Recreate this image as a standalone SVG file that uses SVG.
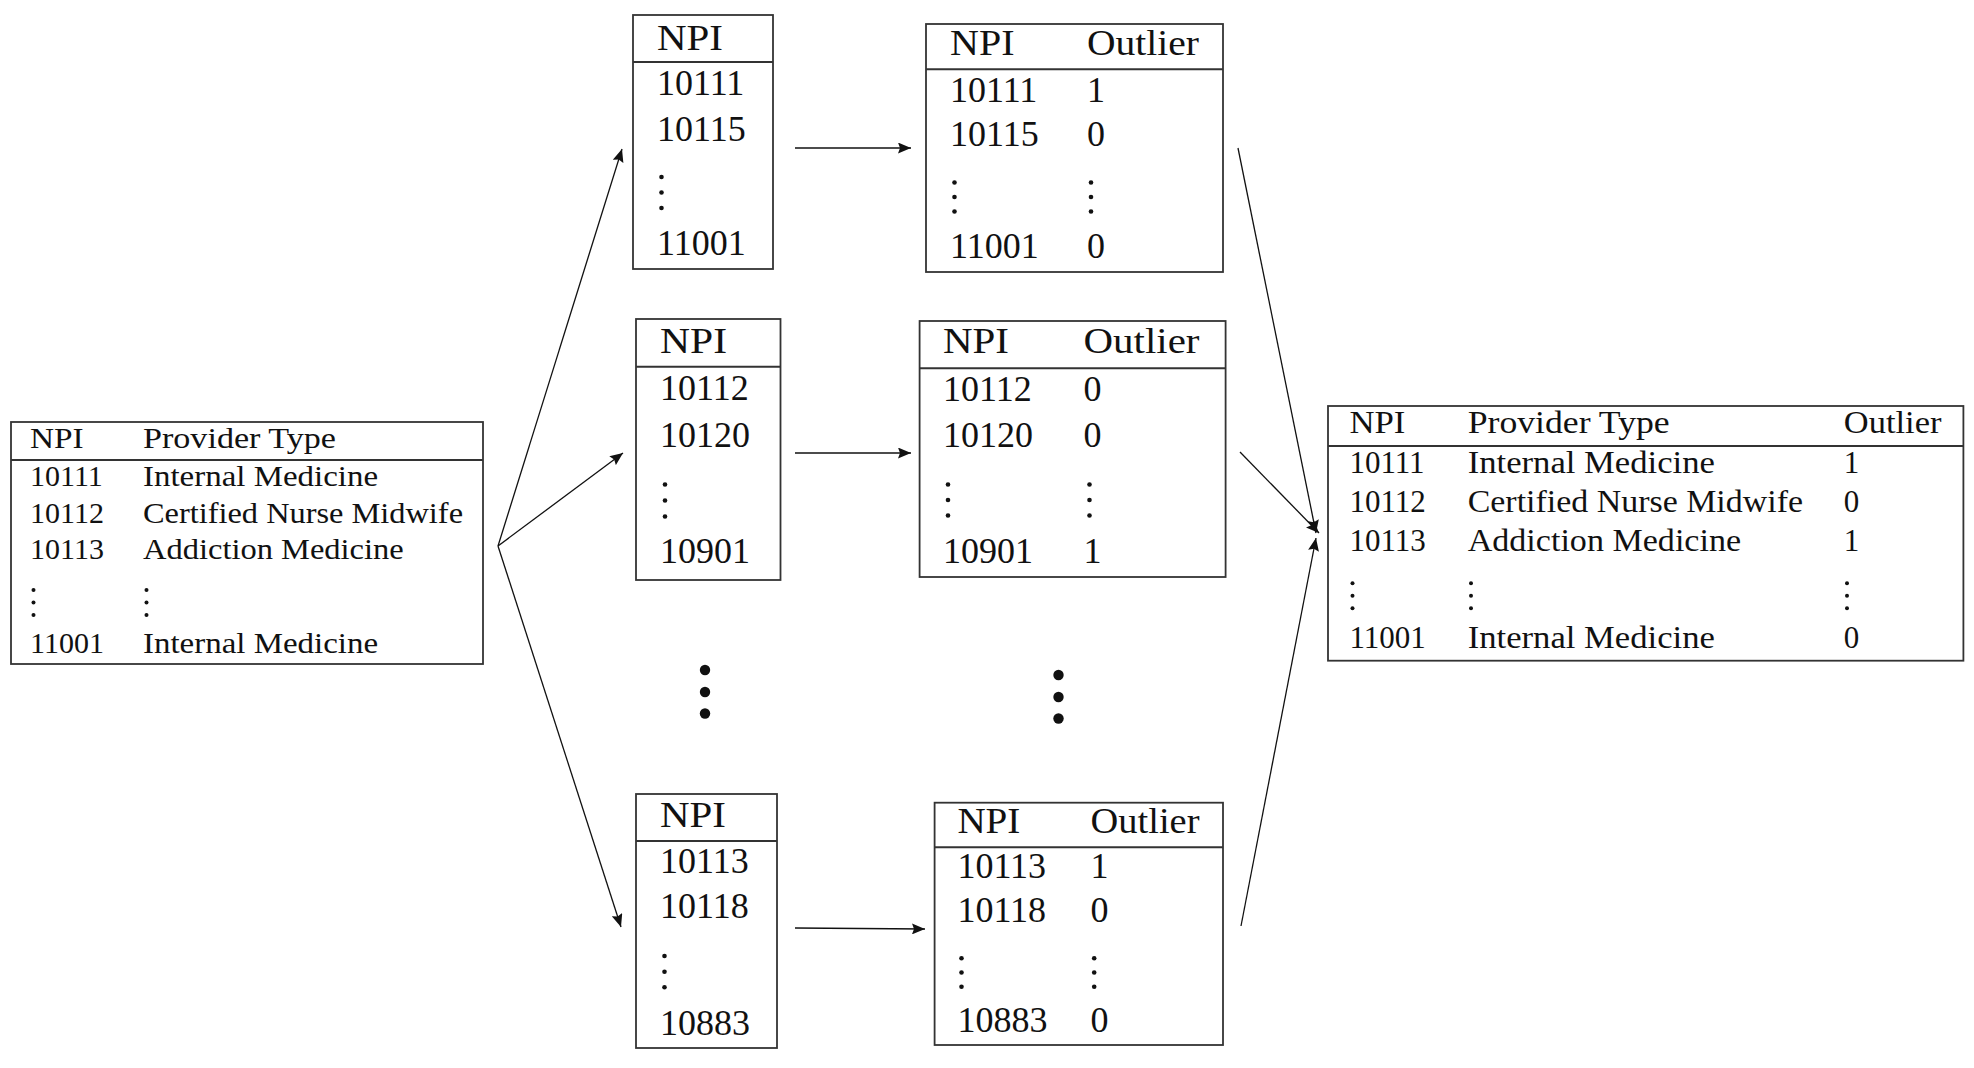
<svg xmlns="http://www.w3.org/2000/svg" width="1974" height="1068" viewBox="0 0 1974 1068">
<style>
.box{fill:#fff;stroke:#333;stroke-width:1.8}
.sep{stroke:#333;stroke-width:2}
.t{font-family:"Liberation Serif","Times New Roman",serif;fill:#111}
.s30{font-size:30px}
.s31{font-size:31px}
.s36{font-size:36px}
.dot{fill:#111}
.conn{stroke:#111;stroke-width:1.3;fill:none}
</style>
<defs>
<marker id="arr" viewBox="0 0 13 11" refX="13" refY="5.5" markerWidth="13" markerHeight="11" markerUnits="userSpaceOnUse" orient="auto">
<path d="M0,0 L13,5.5 L0,11 L2,5.5 z" fill="#111"/>
</marker>
</defs>
<rect width="1974" height="1068" fill="#fff"/>

<g id="input-table">
<rect class="box" x="11" y="422" width="472" height="242"/>
<line class="sep" x1="11" y1="460" x2="483" y2="460"/>
<g class="t s30">
<text x="30" y="448" textLength="53.7" lengthAdjust="spacingAndGlyphs">NPI</text>
<text x="143" y="448" textLength="193" lengthAdjust="spacingAndGlyphs">Provider Type</text>
<text x="30" y="486">10111</text>
<text x="143" y="486" textLength="235" lengthAdjust="spacingAndGlyphs">Internal Medicine</text>
<text x="30" y="523">10112</text>
<text x="143" y="523" textLength="320" lengthAdjust="spacingAndGlyphs">Certified Nurse Midwife</text>
<text x="30" y="559">10113</text>
<text x="143" y="559" textLength="260.7" lengthAdjust="spacingAndGlyphs">Addiction Medicine</text>
<text x="30" y="653">11001</text>
<text x="143" y="653" textLength="235" lengthAdjust="spacingAndGlyphs">Internal Medicine</text>
</g>
<g class="dot">
<circle cx="33.5" cy="590" r="2"/><circle cx="33.5" cy="602.5" r="2"/><circle cx="33.5" cy="615" r="2"/>
<circle cx="146.5" cy="590" r="2"/><circle cx="146.5" cy="602.5" r="2"/><circle cx="146.5" cy="615" r="2"/>
</g>
</g>

<g id="npi-split-1">
<rect class="box" x="633" y="15" width="140" height="254"/>
<line class="sep" x1="633" y1="62" x2="773" y2="62"/>
<g class="t s36">
<text x="657" y="50" textLength="66" lengthAdjust="spacingAndGlyphs">NPI</text>
<text x="657" y="95">10111</text>
<text x="657" y="141">10115</text>
<text x="657" y="255">11001</text>
</g>
<g class="dot"><circle cx="661.5" cy="177" r="2.3"/><circle cx="661.5" cy="192.5" r="2.3"/><circle cx="661.5" cy="208" r="2.3"/></g>
</g>

<g id="npi-split-2">
<rect class="box" x="636" y="319" width="144.5" height="261"/>
<line class="sep" x1="636" y1="366.7" x2="780.5" y2="366.7"/>
<g class="t s36">
<text x="660" y="353" textLength="67" lengthAdjust="spacingAndGlyphs">NPI</text>
<text x="660" y="400">10112</text>
<text x="660" y="447">10120</text>
<text x="660" y="563">10901</text>
</g>
<g class="dot"><circle cx="665" cy="484.5" r="2.3"/><circle cx="665" cy="500.5" r="2.3"/><circle cx="665" cy="516.5" r="2.3"/></g>
</g>

<g id="npi-split-n">
<rect class="box" x="636" y="794" width="141" height="254"/>
<line class="sep" x1="636" y1="841" x2="777" y2="841"/>
<g class="t s36">
<text x="660" y="827" textLength="66" lengthAdjust="spacingAndGlyphs">NPI</text>
<text x="660" y="873">10113</text>
<text x="660" y="918">10118</text>
<text x="660" y="1035">10883</text>
</g>
<g class="dot"><circle cx="664.5" cy="956" r="2.3"/><circle cx="664.5" cy="971.7" r="2.3"/><circle cx="664.5" cy="987.3" r="2.3"/></g>
</g>

<g id="outlier-1">
<rect class="box" x="926" y="24" width="297" height="248"/>
<line class="sep" x1="926" y1="69.3" x2="1223" y2="69.3"/>
<g class="t s36">
<text x="950" y="55" textLength="64.5" lengthAdjust="spacingAndGlyphs">NPI</text>
<text x="1087" y="55" textLength="112" lengthAdjust="spacingAndGlyphs">Outlier</text>
<text x="950" y="102">10111</text><text x="1087" y="102">1</text>
<text x="950" y="146">10115</text><text x="1087" y="146">0</text>
<text x="950" y="258">11001</text><text x="1087" y="258">0</text>
</g>
<g class="dot">
<circle cx="954.5" cy="182.5" r="2.3"/><circle cx="954.5" cy="197" r="2.3"/><circle cx="954.5" cy="211.5" r="2.3"/>
<circle cx="1091" cy="182.5" r="2.3"/><circle cx="1091" cy="197" r="2.3"/><circle cx="1091" cy="211.5" r="2.3"/>
</g>
</g>

<g id="outlier-2">
<rect class="box" x="919.6" y="321" width="306" height="256"/>
<line class="sep" x1="919.6" y1="368.3" x2="1225.6" y2="368.3"/>
<g class="t s36">
<text x="943" y="353" textLength="66" lengthAdjust="spacingAndGlyphs">NPI</text>
<text x="1083.5" y="353" textLength="116" lengthAdjust="spacingAndGlyphs">Outlier</text>
<text x="943" y="401">10112</text><text x="1083.5" y="401">0</text>
<text x="943" y="447">10120</text><text x="1083.5" y="447">0</text>
<text x="943" y="563">10901</text><text x="1083.5" y="563">1</text>
</g>
<g class="dot">
<circle cx="948" cy="484.5" r="2.3"/><circle cx="948" cy="500" r="2.3"/><circle cx="948" cy="515.5" r="2.3"/>
<circle cx="1089.5" cy="484.5" r="2.3"/><circle cx="1089.5" cy="500" r="2.3"/><circle cx="1089.5" cy="515.5" r="2.3"/>
</g>
</g>

<g id="outlier-n">
<rect class="box" x="934.6" y="802.7" width="288.4" height="242.3"/>
<line class="sep" x1="934.6" y1="847.3" x2="1223" y2="847.3"/>
<g class="t s36">
<text x="957.4" y="833" textLength="63" lengthAdjust="spacingAndGlyphs">NPI</text>
<text x="1090.5" y="833" textLength="109" lengthAdjust="spacingAndGlyphs">Outlier</text>
<text x="957.4" y="878">10113</text><text x="1090.5" y="878">1</text>
<text x="957.4" y="922">10118</text><text x="1090.5" y="922">0</text>
<text x="957.4" y="1032">10883</text><text x="1090.5" y="1032">0</text>
</g>
<g class="dot">
<circle cx="961.5" cy="958.3" r="2.3"/><circle cx="961.5" cy="972.5" r="2.3"/><circle cx="961.5" cy="986.7" r="2.3"/>
<circle cx="1094.2" cy="958.3" r="2.3"/><circle cx="1094.2" cy="972.5" r="2.3"/><circle cx="1094.2" cy="986.7" r="2.3"/>
</g>
</g>

<g id="ellipsis-left" class="dot">
<circle cx="705" cy="670" r="5.2"/><circle cx="705" cy="692" r="5.2"/><circle cx="705" cy="713.5" r="5.2"/>
</g>
<g id="ellipsis-right" class="dot">
<circle cx="1058.5" cy="675" r="5.2"/><circle cx="1058.5" cy="697" r="5.2"/><circle cx="1058.5" cy="718.5" r="5.2"/>
</g>

<g id="result-table">
<rect class="box" x="1328" y="406" width="635.4" height="254.7"/>
<line class="sep" x1="1328" y1="446" x2="1963.4" y2="446"/>
<g class="t s31">
<text x="1349.4" y="433" textLength="56" lengthAdjust="spacingAndGlyphs">NPI</text>
<text x="1467.7" y="433" textLength="202" lengthAdjust="spacingAndGlyphs">Provider Type</text>
<text x="1843.8" y="433" textLength="97.6" lengthAdjust="spacingAndGlyphs">Outlier</text>
<text x="1349.4" y="473">10111</text>
<text x="1467.7" y="473" textLength="247.2" lengthAdjust="spacingAndGlyphs">Internal Medicine</text>
<text x="1843.8" y="473">1</text>
<text x="1349.4" y="512">10112</text>
<text x="1467.7" y="512" textLength="335.3" lengthAdjust="spacingAndGlyphs">Certified Nurse Midwife</text>
<text x="1843.8" y="512">0</text>
<text x="1349.4" y="551">10113</text>
<text x="1467.7" y="551" textLength="273.4" lengthAdjust="spacingAndGlyphs">Addiction Medicine</text>
<text x="1843.8" y="551">1</text>
<text x="1349.4" y="648">11001</text>
<text x="1467.7" y="648" textLength="247.2" lengthAdjust="spacingAndGlyphs">Internal Medicine</text>
<text x="1843.8" y="648">0</text>
</g>
<g class="dot">
<circle cx="1352.5" cy="583.3" r="2"/><circle cx="1352.5" cy="595.8" r="2"/><circle cx="1352.5" cy="608.3" r="2"/>
<circle cx="1471" cy="583.3" r="2"/><circle cx="1471" cy="595.8" r="2"/><circle cx="1471" cy="608.3" r="2"/>
<circle cx="1847" cy="583.3" r="2"/><circle cx="1847" cy="595.8" r="2"/><circle cx="1847" cy="608.3" r="2"/>
</g>
</g>

<g id="connectors" class="conn">
<line x1="498" y1="546" x2="622" y2="149" marker-end="url(#arr)"/>
<line x1="498" y1="546" x2="623" y2="453" marker-end="url(#arr)"/>
<line x1="498" y1="546" x2="621" y2="927" marker-end="url(#arr)"/>
<line x1="795" y1="148" x2="911" y2="148" marker-end="url(#arr)"/>
<line x1="795" y1="453" x2="911" y2="453" marker-end="url(#arr)"/>
<line x1="795" y1="928" x2="925" y2="929" marker-end="url(#arr)"/>
<line x1="1238" y1="148" x2="1316" y2="533" marker-end="url(#arr)"/>
<line x1="1240" y1="452" x2="1319" y2="533" marker-end="url(#arr)"/>
<line x1="1241" y1="926" x2="1316" y2="538" marker-end="url(#arr)"/>
</g>
</svg>
